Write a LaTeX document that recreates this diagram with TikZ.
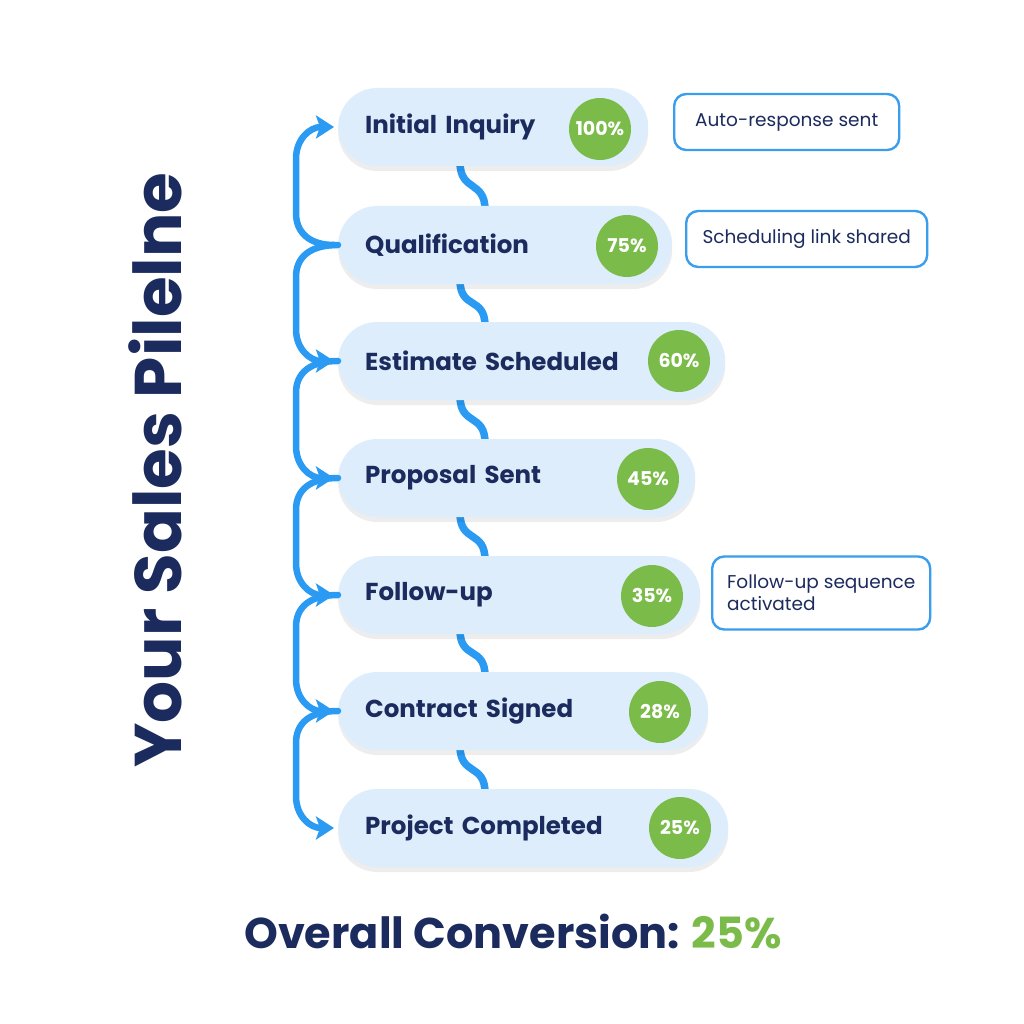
\documentclass[tikz,border=0pt]{standalone}
\usepackage{fontspec}
\setmainfont{Poppins}
\usetikzlibrary{calc,shadows,arrows.meta}

\definecolor{navy}{HTML}{1B2B5E}
\definecolor{boxblue}{HTML}{DDEDFB}
\definecolor{pctgreen}{HTML}{7BBB4A}
\definecolor{flowblue}{HTML}{2B9AF3}
\definecolor{noteblue}{HTML}{3A9EEC}

\pgfdeclarelayer{background}
\pgfsetlayers{background,main}

\tikzset{
    stage/.style={anchor=west, fill=boxblue, rounded corners=39pt, minimum height=78pt,
        inner xsep=27pt, align=left, text=navy, font=\fontsize{24.5}{28}\selectfont\bfseries,
        drop shadow={shadow xshift=0pt, shadow yshift=-5pt, opacity=0.07, fill=black}},
    pct/.style={circle, fill=pctgreen, minimum size=62pt, inner sep=0pt, text=white,
        font=\fontsize{19}{22}\selectfont\bfseries},
    note/.style={anchor=west, draw=noteblue, line width=2.4pt, rounded corners=12pt, fill=white,
        text=navy, align=left, font=\fontsize{18.5}{22}\selectfont},
    bracket/.style={draw=flowblue, line width=6.5pt, line cap=round,
        -{Stealth[length=18pt,width=23pt,inset=4pt]}, shorten >=4pt},
    wave/.style={draw=flowblue, line width=7.5pt}
}

\begin{document}
\begin{tikzpicture}[x=1pt,y=-1pt]
    \useasboundingbox (0,0) rectangle (1024,1024);

    % title
    \node[rotate=90, text=navy, font=\fontsize{66}{76}\selectfont\bfseries] (title) at (155,470) {Your Sales Pilelne};

    % stages
    \node[stage, text width=256pt] (s1) at (338,127) {Initial Inquiry};
    \node[stage, text width=280pt] (s2) at (338,245) {Qualification};
    \node[stage, text width=333pt] (s3) at (338,361) {Estimate Scheduled};
    \node[stage, text width=303pt] (s4) at (338,478) {Proposal Sent};
    \node[stage, text width=308pt] (s5) at (338,595) {Follow-up};
    \node[stage, text width=316pt] (s6) at (338,711) {Contract Signed};
    \node[stage, text width=336pt] (s7) at (338,828) {Project Completed};

    % rates
    \node[pct] (p1) at (600,129) {100\%};
    \node[pct] (p2) at (627,246) {75\%};
    \node[pct] (p3) at (679,361) {60\%};
    \node[pct] (p4) at (648,479) {45\%};
    \node[pct] (p5) at (652,596) {35\%};
    \node[pct] (p6) at (660,712) {28\%};
    \node[pct] (p7) at (680,828) {25\%};

    % notes
    \node[note, minimum width=225pt, minimum height=56pt] (n1) at (673,122) {Auto-response sent};
    \node[note, minimum width=241pt, minimum height=56pt] (n2) at (685,239) {Scheduling link shared};
    \node[note, minimum width=218pt, minimum height=73pt] (n5) at (711,593) {Follow-up sequence\\activated};

    % wavy links between stages
    \begin{pgfonlayer}{background}
        \fill[white] (0,0) rectangle (1024,1024);
        \foreach \a/\b in {s1/s2,s2/s3,s3/s4,s4/s5,s5/s6,s6/s7}
            \draw[wave] ($(\a.south west)+(122,-4)$) .. controls +(0,30) and +(0,-30) .. ($(\b.north west)+(147,4)$);
    \end{pgfonlayer}

    % left bracket
    \draw[bracket, {Stealth[length=18pt,width=23pt,inset=4pt]}-, shorten <=4pt]
        (s1.west) .. controls +(-28,0) and +(0,-20) .. ($(s1.west)+(-42,32)$)
        -- ($(s2.west)+(-42,-32)$) .. controls +(0,20) and +(-28,0) .. (s2.west);
    \foreach \a/\b in {s2/s3,s3/s4,s4/s5,s5/s6,s6/s7}
        \draw[bracket] (\a.west) .. controls +(-28,0) and +(0,-20) .. ($(\a.west)+(-42,32)$)
            -- ($(\b.west)+(-42,-32)$) .. controls +(0,20) and +(-28,0) .. (\b.west);

    % total
    \node[text=navy, font=\fontsize{43}{52}\selectfont\bfseries] (total) at (513,932)
        {Overall Conversion: \textcolor{pctgreen}{25\%}};
\end{tikzpicture}
\end{document}
